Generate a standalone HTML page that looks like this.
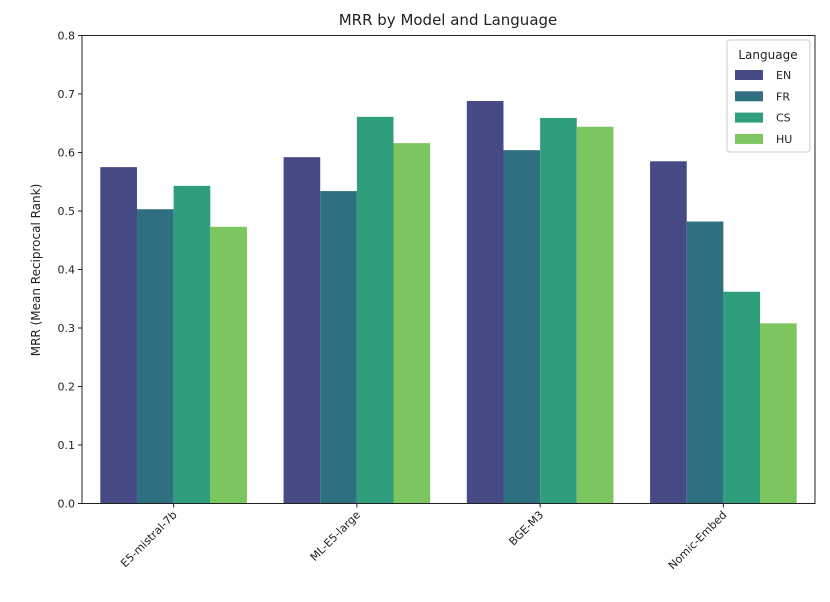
<!DOCTYPE html>
<html><head><meta charset="utf-8"><style>
body{margin:0;background:#fff;width:830px;height:597px;overflow:hidden;font-family:"Liberation Sans","DejaVu Sans",sans-serif;}
svg text{font-family:"DejaVu Sans","Liberation Sans",sans-serif;}
</style></head><body>
<svg id="chart" width="830" height="597" xmlns="http://www.w3.org/2000/svg">
<text x="448" y="25" text-anchor="middle" font-size="15" fill="#222">MRR by Model and Language</text>
<text transform="translate(40,270) rotate(-90)" text-anchor="middle" font-size="12" fill="#222">MRR  (Mean Reciprocal Rank)</text>
<g id="bars"></g><g id="axes"></g><g id="legend"></g>
</svg>
<script>
const categories = ["E5-mistral-7b","ML-E5-large","BGE-M3","Nomic-Embed"];
const languages = ["EN","FR","CS","HU"];
const seriesEN = [0.575,0.592,0.688,0.585];
const seriesFR = [0.503,0.534,0.604,0.482];
const seriesCS = [0.543,0.661,0.659,0.362];
const seriesHU = [0.473,0.616,0.644,0.308];
const yTicks = [0.0,0.1,0.2,0.3,0.4,0.5,0.6,0.7,0.8];
const colors = ["#454a85","#2f6f82","#2f9e7c","#7cc55f"];
const series = [seriesEN,seriesFR,seriesCS,seriesHU];

const NS="http://www.w3.org/2000/svg";
const L=82,R=815,T=35.5,B=503.5;
const unit=(R-L)/4;
const xPos=i=>L+(i+0.5)*unit;
const yPos=v=>B-(v/0.8)*(B-T);
function mk(tag,attrs,parent){const e=document.createElementNS(NS,tag);for(const k in attrs)e.setAttribute(k,attrs[k]);parent.appendChild(e);return e;}
const gb=document.getElementById('bars'),ga=document.getElementById('axes'),gl=document.getElementById('legend');
const bw=unit*0.2;
series.forEach((s,j)=>{s.forEach((v,i)=>{
  const x=xPos(i)-unit*0.4+j*bw;
  const r=mk('rect',{x:x,y:yPos(v),width:bw,height:B-yPos(v),fill:colors[j]},gb);
  
  
});});
const frame=mk('rect',{x:L,y:T,width:R-L,height:B-T,fill:'none',stroke:'#222','stroke-width':1},ga);


yTicks.forEach(t=>{
  const y=yPos(t);
  mk('line',{x1:L-4,x2:L,y1:y,y2:y,stroke:'#222'},ga);
  const tx=mk('text',{x:L-7,y:y+4,'text-anchor':'end','font-size':11,fill:'#222'},ga);
  tx.textContent=t.toFixed(1);
  
  
});
categories.forEach((c,i)=>{
  const x=xPos(i);
  mk('line',{x1:x,x2:x,y1:B,y2:B+4,stroke:'#222'},ga);
  const tx=mk('text',{transform:`translate(${x+4},${B+12}) rotate(-45)`,'text-anchor':'end','font-size':11,fill:'#222'},ga);
  tx.textContent=c;
  
  
});
const lb=mk('rect',{x:727,y:40,width:83,height:112,fill:'#fff',stroke:'#ccc',rx:3},gl);


const lt=mk('text',{x:768,y:59,'text-anchor':'middle','font-size':12,fill:'#222'},gl);
lt.textContent='Language';


languages.forEach((l,j)=>{
  const y=75+j*21.3;
  const sw=mk('rect',{x:735,y:y-5,width:28,height:10,fill:colors[j]},gl);
  
  
  const tx=mk('text',{x:776,y:y+4,'font-size':11,fill:'#222'},gl);
  tx.textContent=l;
  
  
});
</script>
</body></html>
